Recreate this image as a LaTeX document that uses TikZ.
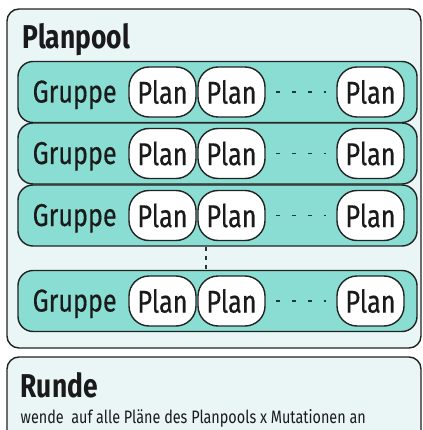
\documentclass[tikz,border=0pt]{standalone}
\usepackage{fontspec}
\setmainfont[FakeStretch=0.8]{Fira Sans}
\newfontfamily\heavycond[FakeStretch=0.8,FakeBold=0.4]{Fira Sans}
\begin{document}
\begin{tikzpicture}[x=1pt,y=1pt,
  line width=1.4pt,
  outerbox/.style={draw=linec,fill=bgc,rounded corners=12pt},
  grouprow/.style={draw=linec,fill=tealc,rounded corners=15pt,minimum width=399pt,minimum height=61pt,inner sep=0pt},
  planbox/.style={draw=linec,fill=white,rounded corners=20pt,minimum width=67pt,minimum height=50pt,inner sep=0pt,font=\heavycond\fontsize{31.5}{33}\selectfont,text=textc},
  grouplabel/.style={anchor=base west,inner sep=0pt,font=\heavycond\fontsize{31.5}{33}\selectfont,text=textc},
  titlelabel/.style={anchor=base west,inner sep=0pt,font=\fontsize{33}{35}\selectfont\bfseries,text=textc},
  smalllabel/.style={anchor=base west,inner sep=0pt,font=\fontsize{18}{20}\selectfont,text=textc},
  dashline/.style={draw=dashc,line width=1.8pt,dash pattern=on 4pt off 12pt},
  vdots/.style={draw=dashc,line width=2pt,dash pattern=on 4.5pt off 4.5pt}
]
\definecolor{linec}{HTML}{222222}
\definecolor{bgc}{HTML}{EAF6F6}
\definecolor{tealc}{HTML}{8ADDD2}
\definecolor{textc}{HTML}{1A1A1A}
\definecolor{dashc}{HTML}{1D3B35}
\useasboundingbox (0,0) rectangle (422,-430);

\draw[outerbox] (7,-9) rectangle (421,-348);
\node[titlelabel] (pooltitle) at (22,-49) {Planpool};

\foreach \r/\c in {1/92,2/153.5,3/215.5,4/301}{
  \node[grouprow] (g\r) at (217.5,-\c) {};
  \node[grouplabel] (gl\r) at (32,-\c-10.5) {Gruppe};
  \node[planbox] (p\r1) at (162.5,-\c) {Plan};
  \node[planbox] (p\r2) at (231.5,-\c) {Plan};
  \node[planbox] (p\r3) at (370.5,-\c) {Plan};
  \draw[dashline,shorten <=10pt,shorten >=10pt] (p\r2.east) -- (p\r3.west);
}
\coordinate (dotx) at (205.5,0);
\draw[vdots] (g3.south -| dotx) -- (g4.north -| dotx);

\draw[outerbox] (7,-357) rectangle (421,-445);
\node[titlelabel] (rtitle) at (20,-397) {Runde};
\node[smalllabel] (rtext) at (20,-423) {wende\ \ auf alle Pläne des Planpools x Mutationen an};
\end{tikzpicture}
\end{document}
